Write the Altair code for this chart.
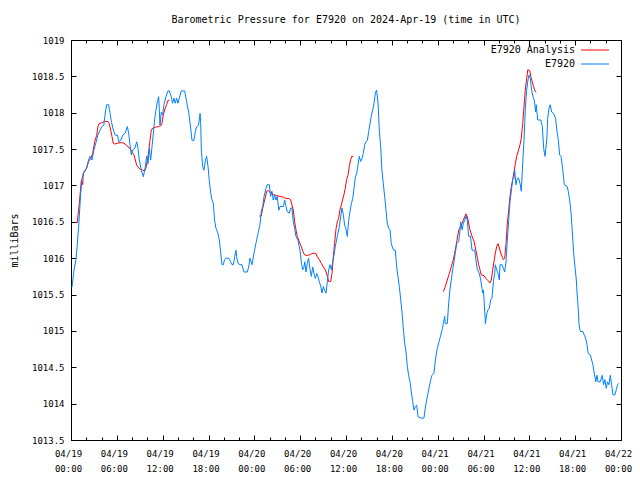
import altair as alt
import pandas as pd

FONT = "DejaVu Sans Mono"
TITLE = "Barometric Pressure for E7920 on 2024-Apr-19 (time in UTC)"
SERIES = ["E7920 Analysis", "E7920"]
COLORS = ["#ff0000", "#0080ff"]

# E7920 observations: hours since 2024-04-19 00:00 UTC, pressure in mb
blue_h = [0.13, 0.4, 0.65, 0.83, 1.0, 1.27, 1.44, 1.7, 2.05, 2.3, 2.5, 2.75, 3.0, 3.3, 3.5, 3.8,
          4.05, 4.3, 4.5, 4.67, 4.93, 5.1, 5.28, 5.55, 5.8, 6.1, 6.24, 6.5, 6.77, 7.1, 7.37, 7.55,
          7.72, 7.9, 8.07, 8.34, 8.6, 8.77, 8.94, 9.2, 9.47, 9.73, 9.9, 10.08, 10.25, 10.43, 10.6,
          10.78, 10.96, 11.13, 11.3, 11.48, 11.65, 11.82, 12.0, 12.17, 12.43, 12.7, 12.87, 13.13,
          13.3, 13.48, 13.65, 13.83, 14.0, 14.18, 14.44, 14.88, 15.14, 15.4, 15.67, 15.84, 16.1,
          16.27, 16.45, 16.7, 16.9, 16.98, 17.06, 17.24, 17.4, 17.6, 17.76, 17.94, 18.1, 18.3,
          18.46, 18.63, 18.8, 18.98, 19.24, 19.42, 19.6, 19.77, 19.94, 20.1, 20.3, 20.64, 20.9,
          21.08, 21.25, 21.43, 21.6, 21.68, 21.86, 22.12, 22.38, 22.65, 23.08, 23.26, 23.43, 23.7,
          23.96, 24.2, 24.48, 24.74, 24.9, 25.1, 25.27, 25.53, 25.7, 25.96, 26.14, 26.3, 26.48,
          26.66, 26.84, 27.0, 27.2, 27.36, 27.8, 27.97, 28.15, 28.3, 28.58, 28.76, 28.93, 29.1,
          29.28, 29.45, 29.7, 29.98, 30.15, 30.33, 30.5, 30.6, 30.76, 30.94, 31.1, 31.3, 31.46,
          31.64, 31.8, 32.0, 32.16, 32.33, 32.5, 32.7, 32.86, 33.03, 33.2, 33.38, 33.56, 33.73,
          33.9, 34.08, 34.26, 34.43, 34.6, 34.86, 35.12, 35.3, 35.47, 35.65, 35.83, 36.0, 36.17,
          36.35, 36.52, 36.7, 36.88, 37.05, 37.2, 37.4, 37.57, 37.74, 37.92, 38.1, 38.26, 38.45,
          38.6, 38.8, 38.97, 39.14, 39.3, 39.5, 39.67, 39.84, 40.0, 40.2, 40.36, 40.54, 40.7,
          40.88, 41.06, 41.24, 41.4, 41.6, 41.76, 41.93, 42.1, 42.28, 42.45, 42.63, 42.8, 42.98,
          43.16, 43.33, 43.5, 43.68, 43.86, 44.03, 44.2, 44.38, 44.55, 44.73, 44.9, 45.07, 45.25,
          45.43, 45.86, 46.2, 46.38, 46.56, 46.73, 46.9, 47.1, 47.26, 47.52, 47.7, 47.95, 48.3,
          48.57, 48.74, 48.92, 49.0, 49.26, 49.44, 49.6, 49.78, 49.96, 50.14, 50.3, 50.5, 50.76,
          50.93, 51.0, 51.2, 51.36, 51.54, 51.7, 51.88, 52.06, 52.3, 52.5, 52.85, 53.0, 53.2,
          53.45, 53.64, 53.8, 53.9, 54.0, 54.07, 54.25, 54.43, 54.6, 54.76, 54.94, 55.1, 55.3,
          55.47, 55.55, 55.73, 55.9, 56.08, 56.16, 56.42, 56.6, 56.77, 56.95, 57.12, 57.3, 57.47,
          57.64, 57.82, 58.0, 58.08, 58.25, 58.43, 58.6, 58.78, 58.95, 59.13, 59.3, 59.47, 59.65,
          59.82, 59.96, 60.13, 60.3, 60.48, 60.65, 60.83, 60.9, 61.1, 61.5, 61.7, 61.88, 62.05,
          62.14, 62.3, 62.4, 62.57, 62.74, 62.92, 63.18, 63.44, 63.6, 63.8, 63.97, 64.15, 64.3,
          64.5, 64.57, 64.93, 65.1, 65.28, 65.46, 65.63, 65.8, 66.0, 66.15, 66.25, 66.4, 66.5,
          66.67, 67.03, 67.2, 67.37, 67.55, 67.7, 67.98, 68.16, 68.33, 68.5, 68.7, 68.85, 69.0,
          69.28, 69.54, 69.72, 69.9, 70.07, 70.24, 70.42, 70.6, 70.77, 70.95, 71.2, 71.38, 71.56,
          71.73]
blue_v = [1015.60, 1015.84, 1015.98, 1016.20, 1016.43, 1016.89, 1017.10, 1017.19, 1017.24, 1017.35,
          1017.40, 1017.35, 1017.49, 1017.60, 1017.69, 1017.76, 1017.81, 1017.83, 1018.01, 1018.11,
          1018.11, 1018.00, 1017.88, 1017.76, 1017.69, 1017.69, 1017.60, 1017.62, 1017.69, 1017.72,
          1017.81, 1017.72, 1017.56, 1017.42, 1017.49, 1017.51, 1017.60, 1017.51, 1017.35, 1017.21,
          1017.12, 1017.26, 1017.40, 1017.30, 1017.51, 1017.35, 1017.53, 1017.72, 1017.92, 1018.04,
          1018.15, 1018.22, 1017.83, 1018.01, 1017.97, 1018.11, 1018.22, 1018.30, 1018.30, 1018.22,
          1018.13, 1018.20, 1018.13, 1018.20, 1018.13, 1018.20, 1018.30, 1018.30, 1018.15, 1018.01,
          1017.79, 1017.62, 1017.62, 1017.74, 1017.81, 1017.83, 1017.99, 1017.85, 1017.49, 1017.26,
          1017.21, 1017.35, 1017.40, 1017.26, 1017.07, 1016.89, 1016.80, 1016.75, 1016.52, 1016.41,
          1016.34, 1016.25, 1016.07, 1015.91, 1015.91, 1015.98, 1016.00, 1016.00, 1015.95, 1015.91,
          1015.91, 1016.02, 1016.11, 1016.02, 1015.93, 1015.91, 1015.91, 1015.81, 1015.81, 1015.88,
          1016.00, 1015.91, 1016.07, 1016.20, 1016.34, 1016.46, 1016.64, 1016.71, 1016.85, 1016.96,
          1017.01, 1017.01, 1016.85, 1016.92, 1016.80, 1016.87, 1016.80, 1016.85, 1016.66, 1016.71,
          1016.71, 1016.80, 1016.71, 1016.64, 1016.62, 1016.69, 1016.69, 1016.50, 1016.41, 1016.30,
          1016.25, 1016.11, 1015.95, 1015.84, 1015.88, 1015.95, 1015.81, 1015.93, 1016.00, 1015.84,
          1015.75, 1015.88, 1015.79, 1015.72, 1015.79, 1015.75, 1015.68, 1015.61, 1015.52, 1015.61,
          1015.56, 1015.52, 1015.68, 1015.84, 1015.91, 1015.84, 1015.95, 1016.04, 1016.16, 1016.30,
          1016.43, 1016.57, 1016.69, 1016.60, 1016.45, 1016.40, 1016.30, 1016.52, 1016.64, 1016.75,
          1016.82, 1016.96, 1017.10, 1017.17, 1017.28, 1017.40, 1017.33, 1017.37, 1017.44, 1017.56,
          1017.60, 1017.62, 1017.74, 1017.85, 1017.95, 1018.04, 1018.13, 1018.27, 1018.31, 1018.13,
          1017.76, 1017.53, 1017.21, 1017.03, 1016.85, 1016.66, 1016.48, 1016.41, 1016.39, 1016.20,
          1016.14, 1016.11, 1016.11, 1015.88, 1015.75, 1015.61, 1015.43, 1015.26, 1015.04, 1014.83,
          1014.71, 1014.51, 1014.39, 1014.30, 1014.16, 1014.03, 1013.91, 1013.96, 1013.98, 1013.82,
          1013.80, 1013.80, 1013.94, 1014.05, 1014.14, 1014.23, 1014.33, 1014.39, 1014.42, 1014.60,
          1014.76, 1014.90, 1015.01, 1015.10, 1015.20, 1015.10, 1015.10, 1015.38, 1015.56, 1015.70,
          1015.84, 1015.95, 1016.07, 1016.20, 1016.23, 1016.39, 1016.50, 1016.39, 1016.48, 1016.52,
          1016.59, 1016.52, 1016.30, 1016.30, 1016.11, 1016.11, 1015.98, 1015.84, 1015.79, 1015.70,
          1015.59, 1015.52, 1015.56, 1015.43, 1015.10, 1015.24, 1015.29, 1015.31, 1015.43, 1015.45,
          1015.68, 1015.79, 1015.91, 1015.84, 1015.79, 1015.70, 1015.91, 1015.91, 1015.86, 1015.81,
          1015.95, 1016.25, 1016.52, 1016.78, 1016.92, 1017.08, 1017.10, 1017.21, 1017.01, 1017.10,
          1017.10, 1017.03, 1016.92, 1017.30, 1017.62, 1018.04, 1018.31, 1018.45, 1018.52, 1018.47,
          1018.31, 1018.22, 1018.17, 1018.01, 1018.11, 1017.90, 1017.90, 1017.81, 1017.51, 1017.40,
          1017.49, 1017.65, 1017.92, 1018.06, 1018.11, 1018.01, 1017.99, 1017.92, 1017.76, 1017.62,
          1017.42, 1017.40, 1017.28, 1017.10, 1017.01, 1016.99, 1016.92, 1016.80, 1016.62, 1016.36,
          1016.07, 1015.86, 1015.70, 1015.52, 1015.31, 1015.10, 1014.99, 1014.99, 1014.94, 1014.90,
          1014.81, 1014.69, 1014.67, 1014.60, 1014.53, 1014.42, 1014.30, 1014.39, 1014.30, 1014.30,
          1014.39, 1014.26, 1014.33, 1014.21, 1014.30, 1014.26, 1014.39, 1014.26, 1014.12, 1014.12,
          1014.19, 1014.26, 1014.28]

# E7920 Analysis: three separate segments
red1_h = [0.65, 0.83, 0.92, 1.09, 1.35, 1.53, 1.61, 1.79, 2.05, 2.3, 2.57, 2.83, 3.1, 3.36, 3.53,
          3.7, 3.97, 4.4, 4.84, 5.0, 5.2, 5.37, 5.54, 5.72, 6.06, 6.58, 6.94, 7.2, 7.46, 7.72, 7.98,
          8.25, 8.42, 8.6, 8.86, 9.12, 9.38, 9.65, 9.82, 10.0, 10.17, 10.34, 10.51, 10.7, 11.04,
          11.48, 11.74, 11.9, 12.08, 12.26, 12.52, 12.7, 12.87]
red1_v = [1016.49, 1016.49, 1016.59, 1016.75, 1017.07, 1017.01, 1017.17, 1017.19, 1017.24, 1017.33,
          1017.37, 1017.44, 1017.60, 1017.69, 1017.81, 1017.85, 1017.86, 1017.88, 1017.88, 1017.85,
          1017.76, 1017.67, 1017.58, 1017.57, 1017.58, 1017.59, 1017.58, 1017.56, 1017.53, 1017.51,
          1017.46, 1017.42, 1017.35, 1017.28, 1017.24, 1017.22, 1017.21, 1017.20, 1017.24, 1017.35,
          1017.46, 1017.62, 1017.76, 1017.79, 1017.80, 1017.81, 1017.82, 1017.85, 1017.97, 1018.04,
          1018.11, 1018.17, 1018.17]
red2_h = [24.65, 24.9, 25.1, 25.35, 25.62, 25.88, 26.05, 26.3, 26.57, 26.93, 27.36, 27.8, 28.15,
          28.58, 28.76, 29.1, 29.28, 29.45, 29.62, 29.8, 29.98, 30.15, 30.33, 30.5, 30.67, 31.1,
          31.46, 31.8, 32.07, 32.24, 32.5, 32.77, 33.03, 33.3, 33.56, 33.73, 34.0, 34.17, 34.34,
          34.5, 34.7, 34.86, 35.04, 35.2, 35.38, 35.55, 35.72, 35.9, 36.08, 36.26, 36.43, 36.6,
          36.75, 36.96]
red2_v = [1016.58, 1016.58, 1016.69, 1016.80, 1016.92, 1016.93, 1016.90, 1016.89, 1016.87, 1016.86,
          1016.85, 1016.84, 1016.82, 1016.82, 1016.80, 1016.66, 1016.50, 1016.39, 1016.30, 1016.25,
          1016.20, 1016.16, 1016.10, 1016.06, 1016.04, 1016.04, 1016.06, 1016.07, 1016.06, 1016.02,
          1015.98, 1015.93, 1015.88, 1015.84, 1015.75, 1015.68, 1015.68, 1015.79, 1016.02, 1016.20,
          1016.41, 1016.50, 1016.55, 1016.66, 1016.73, 1016.80, 1016.87, 1016.96, 1017.08, 1017.14,
          1017.26, 1017.35, 1017.40, 1017.40]
red3_h = [48.74, 49.0, 49.26, 49.53, 49.78, 50.05, 50.3, 50.5, 50.76, 51.0, 51.2, 51.36, 51.54,
          51.7, 51.88, 52.06, 52.23, 52.5, 52.77, 53.0, 53.2, 53.37, 53.54, 53.7, 54.07, 54.33,
          54.6, 54.85, 55.03, 55.2, 55.37, 55.55, 55.73, 55.9, 56.08, 56.26, 56.43, 56.6, 56.77,
          56.95, 57.12, 57.3, 57.47, 57.64, 57.82, 58.0, 58.17, 58.34, 58.6, 58.78, 58.95, 59.13,
          59.3, 59.47, 59.65, 59.8, 60.05, 60.2, 60.37, 60.55, 60.73, 60.9]
red3_v = [1015.54, 1015.61, 1015.70, 1015.79, 1015.88, 1015.98, 1016.11, 1016.23, 1016.39, 1016.43,
          1016.48, 1016.52, 1016.57, 1016.61, 1016.57, 1016.48, 1016.39, 1016.30, 1016.23, 1016.11,
          1016.00, 1015.91, 1015.84, 1015.77, 1015.76, 1015.72, 1015.69, 1015.66, 1015.70, 1015.84,
          1015.95, 1016.07, 1016.16, 1016.20, 1016.14, 1016.07, 1016.02, 1015.98, 1016.00, 1016.20,
          1016.48, 1016.66, 1016.85, 1016.98, 1017.08, 1017.19, 1017.30, 1017.40, 1017.49, 1017.56,
          1017.65, 1017.85, 1018.08, 1018.31, 1018.47, 1018.59, 1018.58, 1018.50, 1018.43, 1018.36,
          1018.30, 1018.28]

x_major = list(range(0, 73, 6))
x_minor = list(range(0, 73, 2))
y_major = [1013.5 + 0.5 * i for i in range(12)]

rows = []
for h, v in zip(blue_h, blue_v):
    rows.append({"hour": h, "mb": v, "series": "E7920", "seg": "b"})
for k, (hs, vs) in enumerate([(red1_h, red1_v), (red2_h, red2_v), (red3_h, red3_v)]):
    for h, v in zip(hs, vs):
        rows.append({"hour": h, "mb": v, "series": "E7920 Analysis", "seg": f"r{k}"})
df = pd.DataFrame(rows)

xs = alt.Scale(domain=[0, 72], nice=False, zero=False)
ys = alt.Scale(domain=[1013.5, 1019], nice=False, zero=False)
cscale = alt.Scale(domain=SERIES, range=COLORS)

legend = alt.Legend(
    orient="none", legendX=519, legendY=5, title=None, rowPadding=4,
    padding=0, symbolType="M-4,0H4", symbolSize=49, symbolStrokeWidth=1,
    symbolFillColor="transparent",
    labelAlign="right", labelOffset={"expr": "-25"}, labelFont=FONT, labelFontSize=10,
    labelColor="black", labelLimit=0,
)

xlab = ("['04/' + (19 + floor(datum.value / 24)), "
        "(datum.value % 24 < 10 ? '0' : '') + (datum.value % 24) + ':00']")

common = dict(domain=False, grid=False, tickColor="black", tickWidth=1, title=None)

ax_bottom = alt.Axis(orient="bottom", values=x_major, tickSize=5, offset=-5, labelExpr=xlab,
                     labelFont=FONT, labelFontSize=9, labelColor="black", labelPadding=9,
                     labelLineHeight=15, labelFlush=False, labelOverlap=False,
                     labelOffset={"expr": "-3"}, **common)
ax_top = alt.Axis(orient="top", values=x_major, tickSize=5, offset=-5, labels=False, **common)
ax_bottom_minor = alt.Axis(orient="bottom", values=x_minor, tickSize=3, offset=-3, labels=False, **common)
ax_top_minor = alt.Axis(orient="top", values=x_minor, tickSize=3, offset=-3, labels=False, **common)
ax_left = alt.Axis(orient="left", values=y_major, tickSize=5, offset=-5, format="~g",
                   labelFont=FONT, labelFontSize=9, labelColor="black", labelPadding=7,
                   labelFlush=False, labelOverlap=False, domain=False, grid=False,
                   tickColor="black", title="milliBars", titleFont=FONT, titleFontSize=10,
                   titleFontWeight="normal", titleColor="black", titlePadding=12)
ax_right = alt.Axis(orient="right", values=y_major, tickSize=5, offset=-5, labels=False, **common)

red = alt.Chart(df).transform_filter(alt.datum.series == "E7920 Analysis").mark_line(
    strokeWidth=1, clip=True).encode(
    x=alt.X("hour:Q", scale=xs, axis=ax_bottom),
    y=alt.Y("mb:Q", scale=ys, axis=ax_left),
    color=alt.Color("series:N", scale=cscale, legend=legend),
    detail="seg:N",
)
blue = alt.Chart(df).transform_filter(alt.datum.series == "E7920").mark_line(
    strokeWidth=1, clip=True).encode(
    x=alt.X("hour:Q", scale=xs, axis=ax_top),
    y=alt.Y("mb:Q", scale=ys, axis=ax_right),
    color=alt.Color("series:N", scale=cscale, legend=legend),
    detail="seg:N",
)
ghost1 = alt.Chart(df).transform_filter(alt.datum.series == "E7920").mark_line(opacity=0).encode(
    x=alt.X("hour:Q", scale=xs, axis=ax_bottom_minor),
    y=alt.Y("mb:Q", scale=ys, axis=None),
)
ghost2 = alt.Chart(df).transform_filter(alt.datum.series == "E7920").mark_line(opacity=0).encode(
    x=alt.X("hour:Q", scale=xs, axis=ax_top_minor),
    y=alt.Y("mb:Q", scale=ys, axis=None),
)

chart = alt.layer(red, blue, ghost1, ghost2).resolve_axis(
    x="independent", y="independent"
).properties(
    width=550, height=400,
    title=alt.TitleParams(TITLE, font=FONT, fontSize=10, fontWeight="normal", color="black",
                          anchor="middle", offset=11),
    autosize=alt.AutoSizeParams(type="none"),
    padding={"left": 63, "top": 32, "right": 11, "bottom": 32},
    background="white",
).configure_view(stroke="black", strokeWidth=1, fill="white")

chart.save("out.html", embed_options={"renderer": "svg", "actions": False})
